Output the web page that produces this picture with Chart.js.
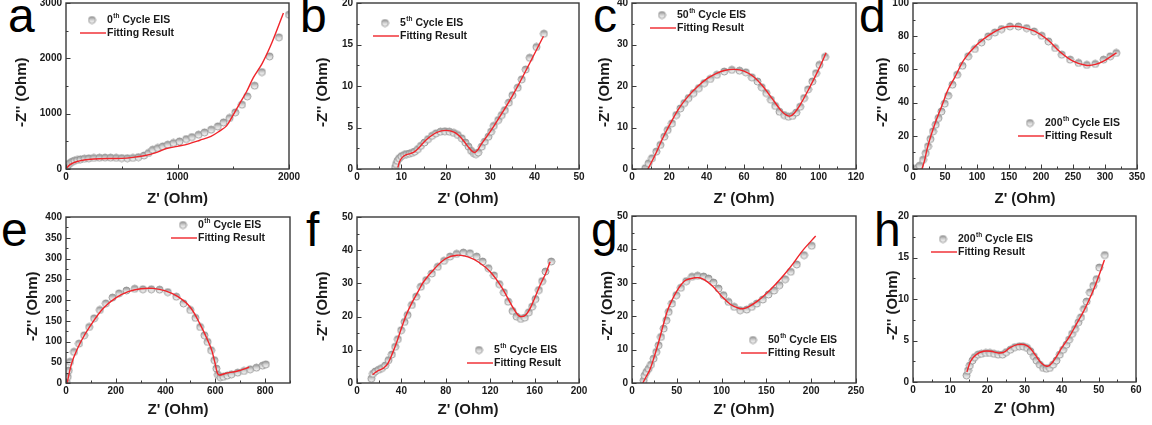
<!DOCTYPE html>
<html>
<head>
<meta charset="utf-8">
<script src="https://cdn.jsdelivr.net/npm/chart.js@4.4.1/dist/chart.umd.min.js"></script>
<style>
  body { margin: 0; background: #fff; width: 1152px; height: 425px; overflow: hidden; position: relative; font-family: "Liberation Sans", Arial, sans-serif; }
  canvas { position: absolute; }
  .letra { position: absolute; font-size: 48px; line-height: 48px; color: #000; }
</style>
</head>
<body>
<div class="letra" style="left:8px;top:-8px">a</div>
<div class="letra" style="left:300px;top:-8px">b</div>
<div class="letra" style="left:593px;top:-8px">c</div>
<div class="letra" style="left:859px;top:-8px">d</div>
<div class="letra" style="left:1px;top:206px">e</div>
<div class="letra" style="left:306px;top:206px">f</div>
<div class="letra" style="left:591px;top:206px">g</div>
<div class="letra" style="left:874px;top:206px">h</div>

<script>
// ---- datos ----
// a: ciclo 0
const aExpX = [3, 8, 15, 25, 38, 55, 75, 100, 130, 165, 205, 250, 300, 350, 400, 450, 500, 550, 600, 650, 700, 740, 778, 823, 868, 913, 964, 1018, 1078, 1129, 1189, 1243, 1302, 1362, 1413, 1467, 1518, 1578, 1626, 1692, 1757, 1826, 1910, 2000];
const aExpY = [15, 40, 65, 90, 110, 130, 148, 163, 176, 186, 194, 200, 204, 206, 205, 202, 198, 196, 200, 215, 245, 290, 349, 380, 410, 440, 470, 500, 542, 578, 620, 663, 711, 771, 843, 922, 1024, 1163, 1313, 1506, 1753, 2036, 2380, 2789];
const aFitX = [0, 30, 60, 100, 150, 200, 300, 400, 500, 600, 700, 800, 900, 1000, 1100, 1200, 1300, 1380, 1440, 1500, 1560, 1620, 1680, 1760, 1850, 1950];
const aFitY = [0, 70, 105, 135, 158, 172, 185, 190, 192, 210, 240, 290, 370, 410, 455, 520, 590, 690, 780, 980, 1190, 1400, 1650, 1910, 2300, 2820];

// b: ciclo 5
const bExpX = [8.6, 8.8, 9.1, 9.5, 10.0, 10.6, 11.2, 11.8, 12.4, 13.0, 13.7, 14.4, 15.2, 16.0, 16.9, 17.8, 18.8, 19.8, 20.8, 21.8, 22.7, 23.6, 24.4, 25.1, 25.7, 26.3, 26.8, 27.3, 28.1, 28.8, 29.6, 30.2, 30.8, 31.8, 32.6, 33.3, 34.2, 35.0, 36.2, 37.1, 38.0, 38.9, 40.4, 42.1];
const bExpY = [0.2, 0.6, 1.0, 1.3, 1.55, 1.7, 1.8, 1.85, 1.95, 2.1, 2.4, 2.8, 3.2, 3.6, 4.0, 4.3, 4.5, 4.55, 4.5, 4.35, 4.1, 3.7, 3.2, 2.7, 2.2, 1.9, 1.8, 2.0, 2.7, 3.3, 3.9, 4.5, 5.2, 5.9, 6.5, 7.1, 8.0, 8.9, 9.8, 10.8, 12.0, 13.4, 14.7, 16.3];
const bFitX = [9.2, 9.6, 10.2, 11, 12, 13, 14, 15, 16, 17, 18, 19, 20, 21, 22, 23, 24, 25, 26, 26.6, 27.2, 28, 30, 35, 42];
const bFitY = [0.2, 0.9, 1.4, 1.7, 1.85, 2.1, 2.6, 3.2, 3.7, 4.1, 4.4, 4.6, 4.65, 4.6, 4.4, 4.0, 3.4, 2.7, 2.1, 2.0, 2.3, 3.0, 4.5, 8.8, 16.0];

// c: ciclo 50
const cExpX = [7.1, 8.9, 10.7, 13, 15.2, 17.3, 19.1, 21.4, 23.7, 25.9, 28, 30.3, 33, 35.8, 38.7, 41.9, 45.5, 49.4, 53.5, 57.6, 61, 64.2, 67.2, 69.5, 71.9, 74.4, 76.7, 79, 81.5, 83.8, 86, 88, 90.1, 92.2, 94.3, 96.6, 98.6, 100.4, 103.4];
const cExpY = [0.2, 1.4, 2.6, 4.2, 5.8, 7.8, 9.4, 11, 13, 14.6, 15.9, 17.1, 18.3, 19.5, 20.7, 21.7, 22.7, 23.5, 23.9, 23.7, 23.3, 22.1, 21.1, 19.7, 18.3, 16.7, 15.2, 13.8, 13.0, 12.6, 12.8, 13.6, 15.0, 17.1, 19.2, 21.1, 23.1, 25.1, 27.0];
const cFitX = [8.5, 12, 16, 20, 25, 30, 35, 40, 45, 50, 55, 60, 65, 70, 75, 80, 83, 85, 87, 90, 95, 100, 104];
const cFitY = [0, 3, 7, 10.5, 14.5, 17.5, 19.8, 21.7, 23, 23.8, 24, 23.6, 22.3, 20, 17, 14, 12.9, 12.8, 13.5, 15.4, 19.5, 24, 28];

// d: ciclo 200
const dExpX = [6.3, 10.4, 15.7, 19.9, 23.5, 27.2, 31.3, 35.5, 39.7, 44.4, 49.6, 54.9, 61.6, 69, 77.3, 86.2, 96.6, 107.1, 117.5, 128, 138.4, 151.5, 164.6, 177.6, 189.1, 201.1, 211.6, 222, 232.5, 245.5, 258.6, 271.6, 284.7, 297.8, 308.2, 317.6];
const dExpY = [0.6, 2, 5.6, 9.6, 13.7, 18.1, 22.7, 26.7, 30.7, 34.7, 39.4, 44.2, 50.8, 56.8, 62.2, 67.9, 72.3, 76.3, 79.9, 82.3, 84.3, 85.9, 85.9, 84.9, 82.9, 80.3, 76.9, 72.9, 68.9, 65.9, 63.9, 62.7, 63.3, 65.9, 67.9, 69.9];
const dFitX = [14, 18, 22, 28, 35, 45, 55, 65, 80, 100, 120, 140, 155, 170, 190, 210, 230, 250, 270, 285, 300, 318];
const dFitY = [0, 5, 12, 20, 28, 38, 48, 55, 66, 75, 81, 85, 86, 85.5, 83, 78, 70.5, 65, 62.5, 63, 65.5, 70];

// e: ciclo 0
const eExpX = [3, 7, 11, 16, 32, 52, 73, 93, 113, 136, 160, 187, 213, 243, 276, 309, 343, 376, 409, 443, 472, 499, 520, 539, 556, 569, 583, 596, 604, 610, 620, 632, 648, 665, 690, 715, 740, 765, 790, 803];
const eExpY = [2, 15, 30, 51, 75, 95, 115, 135, 156, 176, 192, 206, 216, 223, 227, 226, 226, 225, 219, 208, 192, 176, 157, 135, 115, 99, 79, 55, 35, 20, 14, 15, 18, 21, 25, 29, 33, 37, 42, 45];
const eFitX = [5, 15, 30, 60, 100, 150, 200, 250, 300, 350, 400, 450, 500, 540, 570, 585, 598, 608, 616, 640, 690, 736];
const eFitY = [0, 30, 60, 100, 140, 180, 205, 220, 227, 228, 222, 208, 182, 140, 102, 80, 50, 24, 19, 23, 29, 38];

// f: ciclo 5
const fExpX = [12.9, 14.4, 16.5, 19.5, 22.5, 25.4, 28.4, 31.4, 34.4, 36.8, 39.8, 42.8, 45.5, 49.4, 53.3, 57.5, 62.3, 67.4, 72.8, 78.4, 83.8, 89.8, 95.8, 101.8, 107.8, 113.2, 118.3, 123.4, 128.1, 132.3, 136.2, 140.1, 143.7, 147.6, 151.2, 154.8, 157.8, 160.8, 163.8, 166.8, 169.8, 175];
const fExpY = [1.3, 2.8, 3.5, 4, 4.5, 5.3, 6.9, 8.6, 10.9, 13.2, 15.9, 18.4, 20.5, 23.5, 26, 29, 31, 33, 35, 36.8, 38.1, 38.9, 39.3, 39.1, 38.1, 36.6, 34.6, 32.4, 29.8, 27.3, 24.5, 21.7, 20, 19.3, 19.7, 21.3, 23, 25.3, 28, 30.7, 33.6, 36.6];
const fFitX = [14, 18, 24, 28, 32, 36, 40, 45, 50, 55, 60, 70, 80, 90, 100, 110, 120, 130, 140, 145, 148, 152, 156, 160, 165, 170, 174];
const fFitY = [2.5, 3.5, 4.5, 6, 9, 12.5, 16.5, 21, 24.5, 27.5, 30.5, 34.5, 37.5, 38.5, 38, 36.3, 33.5, 29, 23, 20.5, 20, 20.5, 22.5, 25.5, 29.5, 33, 36.5];

// g: ciclo 50
const gExpX = [13, 14.1, 16, 18.6, 21.2, 24.1, 27.1, 29.7, 32.3, 35.3, 38.3, 40.9, 44.6, 49.4, 54.6, 60.5, 66.9, 73.2, 79.9, 85.4, 91, 96.6, 102.1, 107.7, 114, 120.7, 128.1, 133.7, 139.3, 146, 152.3, 158.6, 164.6, 170.9, 177.2, 183.9, 192, 200.6];
const gExpY = [0.8, 2.3, 3.3, 4.3, 5.5, 7.3, 9.3, 11.3, 13.8, 16.3, 18.8, 21.3, 23.8, 26.3, 28.5, 30.5, 31.8, 32.1, 31.9, 31.3, 30.1, 28.3, 26.3, 24.3, 22.8, 21.8, 22, 22.8, 23.8, 25, 26.5, 27.7, 29.3, 31.1, 33.3, 35.5, 38.3, 41.1];
const gFitX = [12, 15, 20, 25, 30, 35, 40, 45, 50, 55, 60, 70, 75, 80, 90, 100, 110, 120, 125, 130, 140, 150, 160, 170, 180, 190, 205];
const gFitY = [0, 1.5, 4, 8, 12.5, 17.5, 22, 25, 27.5, 29.5, 30.8, 31.5, 31.5, 31, 29, 26, 23.5, 22.3, 22.3, 22.8, 24.5, 26.8, 29.5, 32.5, 35.8, 39.5, 44];

// h: ciclo 200
const hExpX = [14.4, 14.8, 15.3, 16, 16.6, 17.5, 18.4, 19.6, 20.7, 21.8, 22.9, 24.1, 25.1, 26.2, 27.4, 28.6, 29.6, 30.7, 31.6, 32.5, 33.2, 34.1, 35, 35.9, 36.8, 37.7, 38.6, 39.5, 40.4, 41.3, 42, 42.8, 43.6, 44.5, 45.2, 46, 46.7, 47.6, 48.5, 49.4, 50.1, 51.6];
const hExpY = [0.8, 1.4, 2.0, 2.6, 3.0, 3.3, 3.4, 3.5, 3.5, 3.4, 3.3, 3.3, 3.6, 3.9, 4.2, 4.3, 4.3, 4.1, 3.7, 3.1, 2.6, 2.1, 1.7, 1.6, 1.7, 2.1, 2.6, 3.3, 3.9, 4.5, 5.1, 5.8, 6.4, 7.2, 7.8, 8.8, 9.7, 10.8, 11.6, 12.4, 13.8, 15.3];
const hFitX = [14.5, 15.5, 17, 19, 21, 23, 24.5, 26, 28, 30, 31.5, 33, 34.5, 36, 37, 38.5, 40, 42, 44, 46, 48, 50, 51.5];
const hFitY = [1.2, 2.5, 3.3, 3.7, 3.7, 3.5, 3.6, 4.1, 4.5, 4.5, 4.1, 3.2, 2.3, 1.9, 2.1, 3, 4.1, 5.4, 7, 8.6, 10.5, 12.8, 14.7];

const ciclos = ['0', '5', '50', '200', '0', '5', '50', '200'];
const xTitulo = "Z' (Ohm)";
const yTitulo = "-Z'' (Ohm)   ";
const leyendaFit = 'Fitting Result';

// ---- estilo ----
const FONT = '"Liberation Sans", Arial, sans-serif';
const INK = '#1a1a1a';
const ROJO = '#f0242a';

const zip = (xs, ys) => xs.map((x, i) => ({x: x, y: ys[i]}));

const hacerBola = () => {
    const c = document.createElement('canvas');
    c.width = 9; c.height = 9;
    const g = c.getContext('2d');
    const gr = g.createLinearGradient(0, 1, 0, 8);
    gr.addColorStop(0, '#8e8e8e');
    gr.addColorStop(0.5, '#d4d4d4');
    gr.addColorStop(1, '#ffffff');
    g.fillStyle = gr;
    g.beginPath(); g.arc(4.5, 4.5, 3.5, 0, Math.PI * 2); g.fill();
    g.strokeStyle = '#939393'; g.lineWidth = 0.9; g.stroke();
    return c;
}
const bola = hacerBola();

// ticks fijos de min a max
const ticksFijos = paso => s => {
    const t = [];
    for (let v = s.min; v <= s.max + 1e-9; v += paso) t.push({value: v});
    s.ticks = t;
}

// marco + ticks hacia adentro
const marco = {
    id: 'marco',
    afterDraw(chart) {
        const {ctx, chartArea: a, scales: {x, y}} = chart;
        ctx.save();
        ctx.strokeStyle = '#3a3a3a';
        ctx.lineWidth = 1.4;
        ctx.strokeRect(a.left, a.top, a.right - a.left, a.bottom - a.top);
        ctx.lineWidth = 1;
        ctx.beginPath();
        const sx = x.options.ticks.stepSize / 2;
        for (let v = x.min, k = 0; v <= x.max + 1e-9; v += sx, k++) {
            const px = Math.round(x.getPixelForValue(v)) + 0.5;
            ctx.moveTo(px, a.bottom);
            ctx.lineTo(px, a.bottom - (k % 2 ? 2.5 : 4.5));
        }
        const sy = y.options.ticks.stepSize / 2;
        for (let v = y.min, k = 0; v <= y.max + 1e-9; v += sy, k++) {
            const py = Math.round(y.getPixelForValue(v)) + 0.5;
            ctx.moveTo(a.left, py);
            ctx.lineTo(a.left + (k % 2 ? 2.5 : 4.5), py);
        }
        ctx.stroke();
        ctx.restore();
    }
}

// leyenda dentro del area
const leyenda = {
    id: 'leyenda',
    afterDraw(chart, args, o) {
        const {ctx, chartArea: a} = chart;
        const mx = a.left + o.dx, my = a.top + o.dy;
        ctx.save();
        ctx.drawImage(bola, mx - 4.5, my - 4.5);
        ctx.fillStyle = INK;
        ctx.textBaseline = 'middle';
        ctx.font = 'bold 10.5px ' + FONT;
        let tx = mx + 15;
        ctx.fillText(o.ciclo, tx, my);
        tx += ctx.measureText(o.ciclo).width + 0.5;
        ctx.font = 'bold 6.5px ' + FONT;
        ctx.fillText('th', tx, my - 3.5);
        tx += ctx.measureText('th').width;
        ctx.font = 'bold 10.5px ' + FONT;
        ctx.fillText(' Cycle EIS', tx, my);
        const ly = my + 13;
        ctx.strokeStyle = ROJO;
        ctx.lineWidth = 1.4;
        ctx.beginPath();
        ctx.moveTo(mx - 12, ly); ctx.lineTo(mx + 14, ly);
        ctx.stroke();
        ctx.fillText(leyendaFit, mx + 15, ly);
        ctx.restore();
    }
}

const panel = (expX, expY, fitX, fitY, ejes, caja, ley) => {
    const [L, T, R, B] = caja;
    const cv = document.createElement('canvas');
    cv.width = R - L + 66 + 16;
    cv.height = B - T + 13 + 45;
    cv.style.left = (L - 66) + 'px';
    cv.style.top = (T - 13) + 'px';
    document.body.appendChild(cv);

    const tickFont = {family: FONT, size: 10, weight: 'bold'};
    const titleFont = {family: FONT, size: 15, weight: 'bold'};

    return new Chart(cv, {
        type: 'scatter',
        data: {
            datasets: [{
                data: zip(fitX, fitY),
                showLine: true,
                pointRadius: 0,
                borderColor: ROJO,
                borderWidth: 1.4,
                tension: 0.35
            }, {
                data: zip(expX, expY),
                pointStyle: bola,
                pointRadius: 4,
                pointHoverRadius: 4
            }]
        },
        options: {
            responsive: false,
            animation: false,
            events: [],
            layout: {padding: {left: 0, top: 13, right: 16, bottom: 0}},
            plugins: {
                legend: {display: false},
                tooltip: {enabled: false},
                leyenda: ley
            },
            scales: {
                x: {
                    type: 'linear', min: 0, max: ejes.xMax,
                    grid: {display: false, drawTicks: false, tickLength: 0},
                    border: {display: false},
                    ticks: {stepSize: ejes.xStep, padding: 2, color: INK, font: tickFont, maxRotation: 0, autoSkip: false, callback: v => v},
                    afterBuildTicks: ticksFijos(ejes.xStep),
                    title: {display: true, text: xTitulo, color: INK, font: titleFont, padding: {top: 0, bottom: ejes.xtPad}},
                    afterFit: s => { s.height = 45; s.paddingLeft = 0; s.paddingRight = 0; }
                },
                y: {
                    type: 'linear', min: 0, max: ejes.yMax,
                    grid: {display: false, drawTicks: false, tickLength: 0},
                    border: {display: false},
                    ticks: {stepSize: ejes.yStep, padding: 4, color: INK, font: tickFont, autoSkip: false, callback: v => v},
                    afterBuildTicks: ticksFijos(ejes.yStep),
                    title: {display: true, text: yTitulo, color: INK, font: titleFont, padding: {top: ejes.ytPad, bottom: 0}},
                    afterFit: s => { s.width = 66; s.paddingTop = 0; s.paddingBottom = 0; }
                }
            }
        },
        plugins: [marco, leyenda]
    });
}

panel(aExpX, aExpY, aFitX, aFitY, {xMax: 2000, xStep: 1000, yMax: 3000, yStep: 1000, xtPad: 6, ytPad: 13}, [66, 3, 289, 169], {dx: 26, dy: 17, ciclo: ciclos[0]});
panel(bExpX, bExpY, bFitX, bFitY, {xMax: 50, xStep: 10, yMax: 20, yStep: 5, xtPad: 6, ytPad: 23}, [357, 3, 579, 169], {dx: 28, dy: 20, ciclo: ciclos[1]});
panel(cExpX, cExpY, cFitX, cFitY, {xMax: 120, xStep: 20, yMax: 40, yStep: 10, xtPad: 6, ytPad: 30}, [632, 3, 856, 169], {dx: 30, dy: 12, ciclo: ciclos[2]});
panel(dExpX, dExpY, dFitX, dFitY, {xMax: 350, xStep: 50, yMax: 100, yStep: 20, xtPad: 6, ytPad: 27}, [913, 3, 1137, 169], {dx: 117, dy: 120, ciclo: ciclos[3]});
panel(eExpX, eExpY, eFitX, eFitY, {xMax: 900, xStep: 200, yMax: 400, yStep: 50, xtPad: 9, ytPad: 24}, [66, 217, 290, 383], {dx: 117, dy: 8, ciclo: ciclos[4]});
panel(fExpX, fExpY, fFitX, fFitY, {xMax: 200, xStep: 40, yMax: 50, yStep: 10, xtPad: 9, ytPad: 23}, [357, 217, 579, 383], {dx: 122, dy: 133, ciclo: ciclos[5]});
panel(gExpX, gExpY, gFitX, gFitY, {xMax: 250, xStep: 50, yMax: 50, yStep: 10, xtPad: 9, ytPad: 33}, [632, 216, 856, 383], {dx: 121, dy: 124, ciclo: ciclos[6]});
panel(hExpX, hExpY, hFitX, hFitY, {xMax: 60, xStep: 10, yMax: 20, yStep: 5, xtPad: 9, ytPad: 37}, [913, 216, 1136, 382], {dx: 30, dy: 23, ciclo: ciclos[7]});
</script>
</body>
</html>
